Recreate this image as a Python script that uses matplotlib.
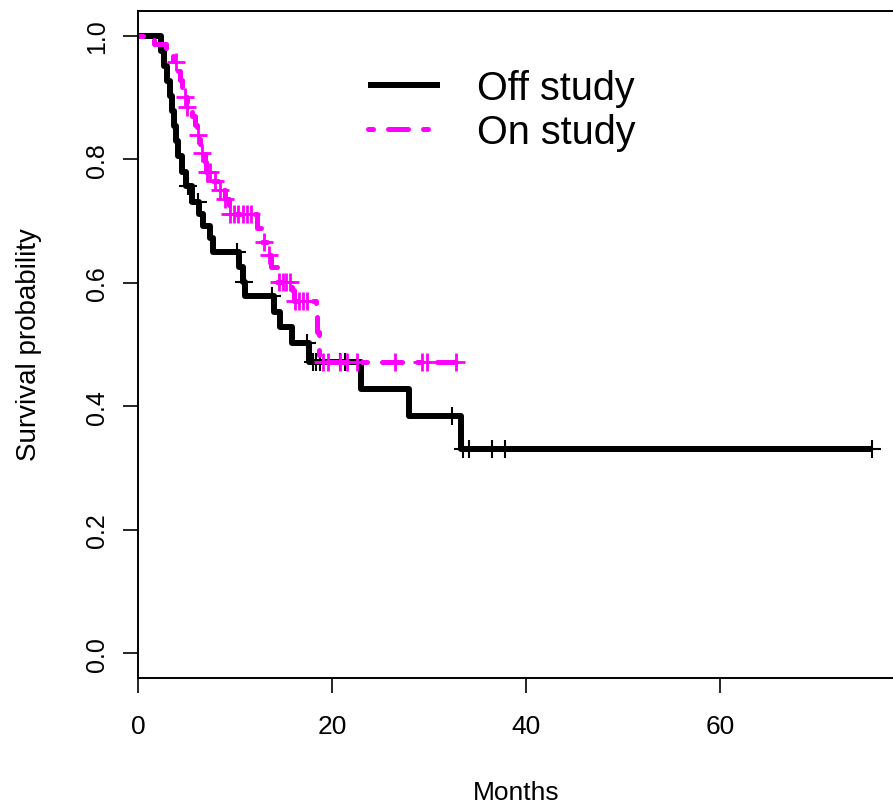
import numpy as np
import matplotlib
matplotlib.use("Agg")
import matplotlib.pyplot as plt

plt.rcParams['font.family'] = ['Liberation Sans', 'DejaVu Sans']

# ---- data ----
off_times = [0, 2.4, 2.7, 3.0, 3.3, 3.5, 3.7, 3.9, 4.1, 4.5, 4.9, 5.6, 6.3, 6.7, 7.4, 7.7,
             10.4, 10.8, 11.0, 14.0, 14.6, 15.9, 17.6, 23.0, 27.9, 33.3]
off_surv = [1.0, 0.976, 0.951, 0.927, 0.902, 0.878, 0.854, 0.829, 0.805, 0.780, 0.756, 0.731,
            0.712, 0.692, 0.672, 0.650, 0.626, 0.601, 0.578, 0.553, 0.528, 0.503, 0.472,
            0.428, 0.385, 0.330]
off_censor = [5.2, 6.2, 10.2, 10.9, 13.8, 17.4, 18.0, 18.4, 18.8, 20.8, 21.3, 32.4,
              33.5, 34.1, 36.5, 37.8, 75.7]

on_times = [0, 1.6, 2.9, 3.6, 4.0, 4.3, 4.5, 4.7, 5.1, 5.6, 5.9, 6.1, 6.4, 6.6, 6.9, 7.0,
            7.5, 8.2, 9.0, 9.4, 12.3, 12.7, 13.4, 13.7, 14.3, 15.9, 16.1, 18.3, 18.5, 18.7]
on_surv = [1.0, 0.986, 0.972, 0.958, 0.943, 0.929, 0.914, 0.900, 0.885, 0.870, 0.855, 0.840,
           0.825, 0.810, 0.795, 0.780, 0.765, 0.750, 0.735, 0.712, 0.688, 0.666, 0.645, 0.626,
           0.602, 0.588, 0.570, 0.545, 0.520, 0.472]
on_censor = [3.9, 4.8, 5.1, 6.2, 6.6, 7.1, 7.4, 7.9, 8.5, 9.0, 9.5, 9.9, 10.3, 10.8, 11.2,
             11.6, 13.0, 13.5, 14.5, 14.9, 15.3, 15.7, 16.2, 16.6, 17.0, 17.4, 19.1, 19.6,
             20.8, 21.5, 22.6, 26.5, 29.3, 29.8, 32.8]

group_labels = ["Off study", "On study"]
x_ticks = [0, 20, 40, 60]
y_ticks = [0.0, 0.2, 0.4, 0.6, 0.8, 1.0]


def surv_at(times, surv, t):
    idx = np.searchsorted(times, t, side='right') - 1
    return np.asarray(surv)[idx]


W, H = 893, 804
fig = plt.figure(figsize=(W / 100, H / 100), dpi=100)
xmax = 78.0
px_per_unit = 9.7
ax_h = 679 - 12
ax = fig.add_axes([138 / W, (H - 679) / H, xmax * px_per_unit / W, ax_h / H])

# Off study
t_end = max(off_censor)
xs = list(off_times) + [t_end]
ys = list(off_surv) + [off_surv[-1]]
ax.step(xs, ys, where='post', color='black', lw=4.3, solid_capstyle='butt',
        label=group_labels[0])
ax.plot(off_censor, surv_at(off_times, off_surv, off_censor), ls='none', marker='+',
        ms=13, mew=1.5, color='black')

# On study
t_end = max(on_censor)
xs = list(on_times) + [t_end]
ys = list(on_surv) + [on_surv[-1]]
ax.step(xs, ys, where='post', color='#FF00FF', lw=3.6, linestyle=(0, (1, 3, 4, 3)),
        dash_capstyle='round', label=group_labels[1])
ax.plot(on_censor, surv_at(on_times, on_surv, on_censor), ls='none', marker='+',
        ms=13, mew=2.0, color='#FF00FF')

ax.set_xlim(0, xmax)
ax.set_ylim(-0.04, 1.04)
ax.set_xticks(x_ticks)
ax.set_xticklabels([str(v) for v in x_ticks])
ax.set_yticks(y_ticks)
ax.set_yticklabels([f"{v:.1f}" for v in y_ticks], rotation=90, va='center')
ax.tick_params(axis='both', length=11, width=1.2, direction='out')
ax.tick_params(axis='x', labelsize=19, pad=15)
ax.tick_params(axis='y', labelsize=18, pad=10)
ax.spines['right'].set_visible(False)
for s in ['left', 'top', 'bottom']:
    ax.spines[s].set_linewidth(1.4)

fig.text(29.5 / W, 1 - 345 / H, "Survival probability", rotation=90, ha='center',
         va='center', fontsize=20)
fig.text(516.5 / W, 1 - 800 / H, "Months", ha='center', va='baseline', fontsize=19)

leg = ax.legend(loc='upper left',
                bbox_to_anchor=((368 - 138) / (xmax * px_per_unit), 1 - (70 - 12) / ax_h),
                frameon=False, fontsize=28.5, handlelength=1.82, handletextpad=0.93,
                labelspacing=0.14, borderaxespad=0, borderpad=0)

fig.savefig("out.png", dpi=100)
